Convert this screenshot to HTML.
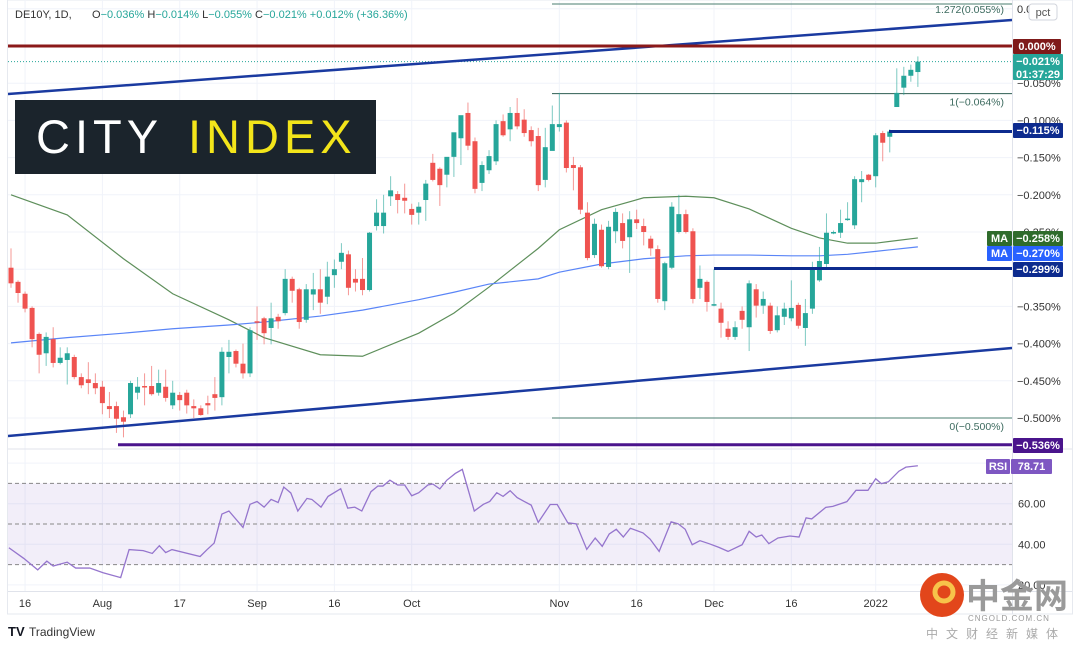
<!DOCTYPE html>
<html><head><meta charset="utf-8">
<style>
html,body{margin:0;padding:0;background:#fff;}
body{width:1080px;height:646px;overflow:hidden;font-family:"Liberation Sans","Noto Sans CJK SC",sans-serif;}
svg text{font-family:"Liberation Sans","Noto Sans CJK SC",sans-serif;}
</style></head>
<body>
<svg id="chart" width="1080" height="646" viewBox="0 0 1080 646" xmlns="http://www.w3.org/2000/svg">
<defs>
<clipPath id="mainClip"><rect x="8" y="0" width="1004" height="448"/></clipPath>
<clipPath id="rsiClip"><rect x="8" y="450" width="1004" height="141"/></clipPath>
</defs>
<rect x="7.5" y="0" width="1065" height="614" fill="#fff" stroke="#e6e9ef"/>
<g id="grid"></g>
<g id="main" clip-path="url(#mainClip)"></g>
<g id="rsi" clip-path="url(#rsiClip)"></g>
<line x1="8" y1="449" x2="1072" y2="449" stroke="#e0e3eb"/>
<line x1="1012.5" y1="0" x2="1012.5" y2="614" stroke="#e0e3eb"/>
<line x1="8" y1="591.5" x2="1072" y2="591.5" stroke="#e0e3eb"/>
<g id="axis"></g>
<g id="xaxis"></g>

<text x="15" y="18" font-size="11" fill="#333">DE10Y, 1D,</text>
<text x="92" y="18" font-size="11" fill="#26a69a"><tspan fill="#333">O</tspan>−0.036% <tspan fill="#333"> H</tspan>−0.014% <tspan fill="#333"> L</tspan>−0.055% <tspan fill="#333"> C</tspan>−0.021%  +0.012% (+36.36%)</text>

<g>
<rect x="15" y="100" width="361" height="74" fill="#1b242c"/>
<text x="36" y="153" font-size="47" fill="#fff" letter-spacing="5">CITY</text>
<text x="188" y="153" font-size="47" fill="#f3e51a" letter-spacing="5">INDEX</text>
</g>

<g>
<rect x="1029" y="4" width="28" height="16" rx="3" fill="#fff" stroke="#d1d4dc"/>
<text x="1043" y="16" font-size="11" fill="#555" text-anchor="middle">pct</text>
</g>

<g>
<text x="8" y="636" font-size="13" font-weight="bold" fill="#131722">TV</text>
<text x="29" y="636" font-size="12" fill="#333">TradingView</text>
</g>

<g id="wm">
<circle cx="942" cy="595" r="22" fill="#e2461b"/>
<circle cx="944" cy="592" r="9" fill="none" stroke="#f7c34a" stroke-width="5"/>
<text x="966" y="608" font-size="34" font-weight="bold" fill="#9a9a9a">中金网</text>
<text x="968" y="621" font-size="8" fill="#9a9a9a" letter-spacing="1">CNGOLD.COM.CN</text>
<text x="926" y="638" font-size="12" fill="#aaa" letter-spacing="8">中文财经新媒体</text>
</g>
</svg>

<script>
// ---- data ----
const opens  = [-.298,-.317,-.333,-.352,-.387,-.413,-.394,-.426,-.422,-.418,-.445,-.448,-.453,-.458,-.484,-.484,-.499,-.495,-.466,-.457,-.457,-.466,-.458,-.483,-.469,-.466,-.484,-.487,-.480,-.468,-.472,-.418,-.410,-.427,-.440,-.370,-.366,-.379,-.364,-.359,-.313,-.327,-.368,-.334,-.327,-.337,-.308,-.290,-.280,-.313,-.313,-.328,-.242,-.242,-.202,-.199,-.204,-.219,-.224,-.207,-.157,-.165,-.173,-.149,-.124,-.090,-.128,-.184,-.167,-.155,-.101,-.112,-.090,-.099,-.113,-.121,-.180,-.141,-.109,-.103,-.160,-.163,-.224,-.281,-.247,-.297,-.249,-.238,-.257,-.233,-.242,-.259,-.273,-.343,-.298,-.250,-.226,-.249,-.325,-.317,-.349,-.353,-.380,-.391,-.356,-.378,-.327,-.349,-.349,-.382,-.364,-.366,-.348,-.379,-.353,-.315,-.293,-.251,-.251,-.233,-.241,-.183,-.173,-.175,-.117,-.122,-.082,-.056,-.040,-.035];
const closes = [-.319,-.332,-.353,-.394,-.415,-.391,-.426,-.419,-.413,-.445,-.456,-.453,-.460,-.480,-.488,-.501,-.505,-.453,-.458,-.458,-.468,-.453,-.473,-.466,-.476,-.483,-.487,-.496,-.483,-.473,-.411,-.411,-.427,-.440,-.382,-.372,-.386,-.366,-.370,-.313,-.329,-.371,-.327,-.327,-.345,-.310,-.300,-.278,-.325,-.318,-.328,-.251,-.224,-.224,-.194,-.207,-.208,-.227,-.216,-.185,-.180,-.187,-.149,-.116,-.093,-.134,-.192,-.160,-.148,-.105,-.120,-.090,-.108,-.117,-.128,-.187,-.136,-.105,-.105,-.164,-.164,-.220,-.285,-.239,-.296,-.243,-.223,-.262,-.233,-.238,-.250,-.272,-.340,-.292,-.216,-.226,-.250,-.340,-.313,-.344,-.347,-.372,-.391,-.378,-.368,-.319,-.349,-.340,-.383,-.362,-.353,-.352,-.376,-.359,-.301,-.289,-.251,-.250,-.238,-.232,-.179,-.179,-.180,-.120,-.130,-.115,-.063,-.040,-.032,-.021];
const highs  = [-.272,-.315,-.330,-.350,-.385,-.385,-.378,-.405,-.405,-.415,-.440,-.425,-.440,-.450,-.465,-.478,-.490,-.450,-.445,-.440,-.430,-.435,-.435,-.450,-.465,-.462,-.475,-.483,-.470,-.445,-.405,-.395,-.408,-.400,-.378,-.350,-.364,-.345,-.360,-.300,-.310,-.325,-.320,-.305,-.300,-.290,-.287,-.265,-.275,-.300,-.285,-.250,-.206,-.200,-.175,-.195,-.185,-.212,-.210,-.180,-.145,-.163,-.160,-.140,-.110,-.076,-.123,-.155,-.140,-.100,-.092,-.082,-.070,-.085,-.108,-.110,-.110,-.080,-.063,-.100,-.149,-.160,-.210,-.232,-.240,-.235,-.218,-.225,-.222,-.220,-.232,-.255,-.268,-.290,-.210,-.200,-.220,-.245,-.295,-.315,-.300,-.345,-.370,-.370,-.350,-.315,-.320,-.330,-.345,-.350,-.345,-.315,-.345,-.340,-.290,-.270,-.225,-.248,-.220,-.210,-.175,-.168,-.172,-.117,-.114,-.112,-.030,-.028,-.025,-.014];
const lows   = [-.325,-.345,-.358,-.405,-.440,-.430,-.432,-.428,-.455,-.448,-.460,-.468,-.468,-.495,-.500,-.520,-.526,-.500,-.475,-.483,-.470,-.470,-.478,-.488,-.490,-.494,-.500,-.497,-.495,-.490,-.483,-.440,-.432,-.447,-.445,-.395,-.401,-.401,-.380,-.362,-.345,-.380,-.372,-.355,-.360,-.347,-.325,-.300,-.335,-.330,-.335,-.330,-.248,-.252,-.215,-.225,-.225,-.240,-.240,-.235,-.182,-.215,-.190,-.176,-.160,-.140,-.198,-.195,-.172,-.160,-.122,-.128,-.112,-.122,-.135,-.195,-.190,-.140,-.115,-.170,-.194,-.226,-.288,-.285,-.298,-.300,-.265,-.272,-.305,-.246,-.268,-.282,-.345,-.355,-.300,-.252,-.252,-.346,-.340,-.357,-.350,-.392,-.395,-.395,-.380,-.410,-.365,-.360,-.387,-.385,-.375,-.370,-.380,-.403,-.360,-.317,-.298,-.253,-.258,-.235,-.246,-.210,-.182,-.190,-.155,-.143,-.082,-.066,-.048,-.055];

const maBars   = [0,8,16,23,31,36,44,50,58,63,68,75,78,84,90,96,100,105,111,115,119,123,129];
const maFast   = [-.200,-.227,-.286,-.333,-.368,-.392,-.415,-.417,-.386,-.359,-.324,-.272,-.247,-.220,-.204,-.202,-.204,-.219,-.245,-.258,-.265,-.265,-.258];
const maSlow   = [-.399,-.392,-.386,-.380,-.375,-.371,-.363,-.355,-.341,-.331,-.320,-.313,-.304,-.293,-.286,-.282,-.281,-.281,-.282,-.282,-.280,-.276,-.270];

const rsiBars = [-0.3,1.8,3.8,5.1,6,8,9.2,11.2,13.1,15.6,16.8,18.8,20.1,21.1,22,22.9,26.9,27.9,28.9,30,31,33,34,35,36,37,38,38.8,39.8,40.8,42.1,42.8,44.1,45.1,46.9,47.9,48.9,49.9,51.2,52.2,52.9,53.9,55,56,57,58,59.3,60,61,62,63.2,64.2,65.9,67.2,68.1,69.1,70,71,72,73,74,75,76.7,77.7,79.2,80.4,81.9,83.1,84.1,85.1,86.1,87.1,88.1,89.9,90.9,92.2,93.9,94.9,95.9,96.9,98,99.3,100.7,102,104,105,106,106.8,107.8,109.1,110.8,112.1,113.1,113.9,115.9,116.9,118.9,120.2,121.9,123,123.8,124.8,126.3,127.3,129];
const rsiVals = [38.3,33.1,27.4,31.7,29.3,31.2,28.3,28.3,26,23.6,37.4,36.9,35.5,39.3,35.9,37.4,34,37.4,40.6,54.9,56.4,48.3,59.7,61.1,58.3,62.1,60.6,68.2,65.3,56.4,62.6,62.1,58.3,63.6,67.4,57.8,58.3,56.4,65.9,68.7,68.7,71.6,69.2,69.2,63.9,65.4,69.2,69.7,67.3,71.6,74.9,76.9,56.4,59.7,61.1,65.4,63.6,66.4,63,61.1,59.3,50.8,59.6,59.6,50.6,50.1,37.5,43.1,39,45.1,47.4,43.6,47.9,45.6,42.6,36.5,51.1,50.1,47.4,39.8,41.8,40.3,38.5,36.5,39.8,46.4,43.6,44.6,40.3,43.1,44.1,43.6,53,52.5,58.2,58.7,61,66.6,66.6,72.3,69.9,70.8,76,78,78.7];

const priceTicks = [0.05,-0.05,-0.1,-0.15,-0.2,-0.25,-0.3,-0.35,-0.4,-0.45,-0.5];
const rsiTicks = [80,60,40,20];
const dateBars = [2,13,24,35,46,57,78,89,100,111,123];
const dateLabels = ["16","Aug","17","Sep","16","Oct","Nov","16","Dec","16","2022"];

// ---- scales ----
const NS="http://www.w3.org/2000/svg";
const xOf = i => 11 + i*7.03;
const yOf = v => 46 - v*744;
const rY = r => 524 - (r-50)*2.03;
function mk(tag, attrs, parent){const e=document.createElementNS(NS,tag);for(const k in attrs)e.setAttribute(k,attrs[k]);parent.appendChild(e);return e;}
const grid=document.getElementById('grid'), main=document.getElementById('main'), rsi=document.getElementById('rsi'), axis=document.getElementById('axis'), xaxis=document.getElementById('xaxis');

priceTicks.forEach(t=>{const l=mk('line',{x1:8,x2:1012,y1:yOf(t),y2:yOf(t),stroke:'#f0f3fa'},grid);

});
rsiTicks.forEach(t=>{const l=mk('line',{x1:8,x2:1012,y1:rY(t),y2:rY(t),stroke:'#f0f3fa'},grid);

});
dateBars.forEach((b,k)=>{const l=mk('line',{x1:xOf(b),x2:xOf(b),y1:0,y2:591,stroke:'#f0f3fa'},grid);


const t=mk('text',{x:xOf(b),y:607,'font-size':11,fill:'#333','text-anchor':'middle'},xaxis);
t.textContent=dateLabels[k];

});

function seg(x1,y1,x2,y2,stroke,w,name,extra){const l=mk('line',Object.assign({x1,y1,x2,y2,stroke,'stroke-width':w},extra||{}),main);

return l;}
seg(8,yOf(-0.021),1012,yOf(-0.021),'#26a69a',1,'last-price-line',{'stroke-dasharray':'1 2'});
seg(552,4,1012,4,'#4a7d6f',1,'fib-1272-line');
seg(552,yOf(-0.064),1012,yOf(-0.064),'#2e5e52',1,'fib-1-line');
seg(552,yOf(-0.5),1012,yOf(-0.5),'#4a7d6f',1,'fib-0-line');

function poly(vals,color,name){const pts=maBars.map((b,k)=>xOf(b)+','+yOf(vals[k])).join(' ');
const p=mk('polyline',{points:pts,fill:'none',stroke:color,'stroke-width':1.2},main);

}
poly(maFast,'#5e8f5b','ma-fast-line');
poly(maSlow,'#5a85f7','ma-slow-line');

for(let i=0;i<opens.length;i++){
  const up=closes[i]>=opens[i]; const c=up?'#26a69a':'#ef5350';
  const g=mk('g',{},main);
  
  
  mk('line',{x1:xOf(i),x2:xOf(i),y1:yOf(highs[i]),y2:yOf(lows[i]),stroke:c,'stroke-opacity':0.6,'stroke-width':1},g);
  const top=Math.min(yOf(opens[i]),yOf(closes[i])), h=Math.max(1.5,Math.abs(yOf(opens[i])-yOf(closes[i])));
  mk('rect',{x:xOf(i)-2.5,y:top,width:5,height:h,fill:c},g);
}

seg(8,94,1012,20,'#1a3aa0',2.5,'upper-channel-line');
seg(8,436,1012,348,'#1a3aa0',2.5,'lower-channel-line');
seg(8,yOf(0),1012,yOf(0),'#8b1a1a',3,'zero-level-line');
seg(889,yOf(-0.115),1012,yOf(-0.115),'#0d2b8e',3,'resistance-0115-line');
seg(714,yOf(-0.299),1012,yOf(-0.299),'#0d2b8e',3,'support-0299-line');
seg(118,yOf(-0.536),1012,yOf(-0.536),'#4a148c',3,'low-0536-line');

[['1.272(0.055%)',11],['1(−0.064%)',yOf(-0.064)+10],['0(−0.500%)',yOf(-0.5)+10]].forEach(a=>{
 const t=mk('text',{x:1004,y:a[1]+2,'font-size':10.5,fill:'#3d6b5f','text-anchor':'end'},main);
 t.textContent=a[0];
 
 });

mk('rect',{x:8,y:rY(70),width:1004,height:rY(30)-rY(70),fill:'#7e57c2','fill-opacity':0.1},rsi);
[70,50,30].forEach(v=>{const l=mk('line',{x1:8,x2:1012,y1:rY(v),y2:rY(v),stroke:'#888','stroke-dasharray':'4 3'},rsi);

});
const rp=mk('polyline',{points:rsiBars.map((b,k)=>xOf(b)+','+rY(rsiVals[k])).join(' '),fill:'none',stroke:'#9575cd','stroke-width':1.3},rsi);



priceTicks.forEach(t=>{const tx=mk('text',{x:1017,y:yOf(t)+4,'font-size':11,fill:'#333'},axis);
tx.textContent=(t<0?'−':'')+Math.abs(t).toFixed(3)+'%';

});
rsiTicks.slice(1).forEach(t=>{const tx=mk('text',{x:1018,y:rY(t)+4,'font-size':11,fill:'#333'},axis);
tx.textContent=t.toFixed(2);

});

function badge(x,y,w,h,fill,txt,name){const g=mk('g',{},axis);


mk('rect',{x,y,width:w,height:h,fill,rx:1},g);
txt.forEach((s,k)=>{const t=mk('text',{x:x+w/2,y:y+11+k*13,'font-size':11,fill:'#fff','text-anchor':'middle','font-weight':'bold'},g);t.textContent=s;});}
badge(1013,39,48,15,'#7f1a1a',['0.000%'],'zero-price-badge');
badge(1013,54,50,26,'#26a69a',['−0.021%','01:37:29'],'last-price-badge');
badge(1013,123,50,15,'#0d2b8e',['−0.115%'],'level-0115-badge');
badge(987,231,25,15,'#2f6b2c',['MA'],'ma-fast-title');
badge(1013,231,50,15,'#2f6b2c',['−0.258%'],'ma-fast-badge');
badge(987,246,25,15,'#2962ff',['MA'],'ma-slow-title');
badge(1013,246,50,15,'#2962ff',['−0.270%'],'ma-slow-badge');
badge(1013,262,50,15,'#0d2b8e',['−0.299%'],'level-0299-badge');
badge(1013,438,50,15,'#4a148c',['−0.536%'],'level-0536-badge');
badge(986,459,24,15,'#7e57c2',['RSI'],'rsi-title');
badge(1011,459,41,15,'#7e57c2',['78.71'],'rsi-value-badge');
// keep watermark on top
document.getElementById('chart').appendChild(document.getElementById('wm'));
</script>
</body></html>
